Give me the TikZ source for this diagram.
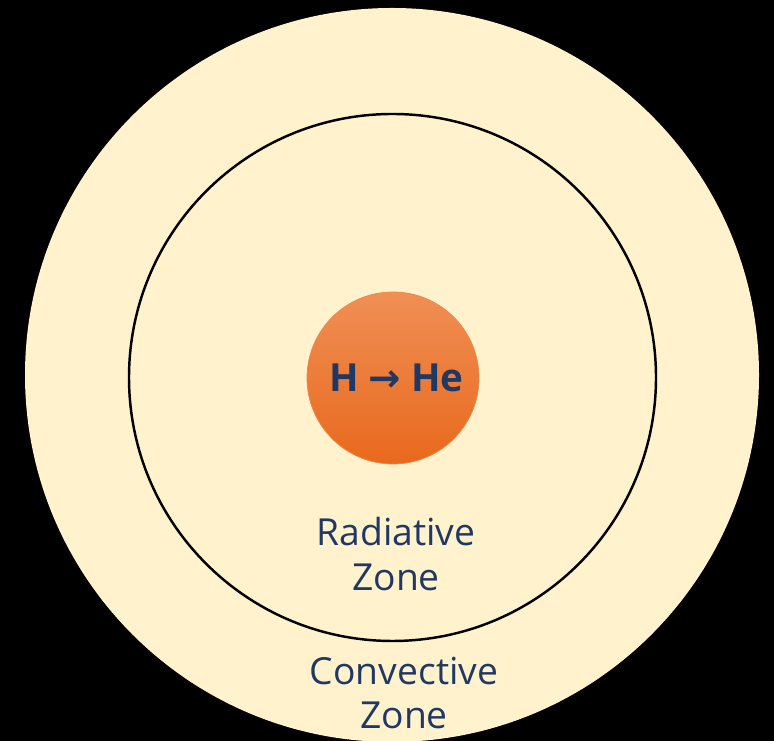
\documentclass[tikz,border=0pt]{standalone}
\usepackage{fontspec}
\setmainfont{Open Sans}
\newfontfamily\arrowfont{DejaVu Sans}
\usepackage{tikz}

\definecolor{cream}{HTML}{FFF2CC}
\definecolor{coretop}{HTML}{F08F55}
\definecolor{corebot}{HTML}{E8691C}
\definecolor{labelblue}{HTML}{203864}

\tikzset{
    zonelabel/.style={text=labelblue, font=\fontsize{21.2}{25.5}\selectfont, align=center},
}

\begin{document}
\begin{tikzpicture}
                    \fill[black] (0,0) rectangle (15.48,14.82);
                    \useasboundingbox (0,0) rectangle (15.48,14.82);

                    \begin{scope}
                    \clip (0,0) rectangle (15.48,14.82);
                    \fill[cream] (7.84,7.32) circle (7.34);
                    \end{scope}

                    \draw[line width=1.4pt] (7.85,7.27) circle (5.27);

                    \shade[top color=coretop, bottom color=corebot] (7.86,7.26) circle (1.72);
                    \draw[corebot!80!white, line width=0.4pt] (7.86,7.26) circle (1.72);
                    \node[text=labelblue, font=\fontsize{22}{26}\selectfont\bfseries] (core) at (7.93, 7.26) {H {\arrowfont\bfseries →} He};

                    \node[zonelabel] (rad) at (7.92, 3.74) {Radiative\\Zone};

                    \node[zonelabel] (conv) at (8.08, 0.96) {Convective\\Zone};

                \end{tikzpicture}
\end{document}
